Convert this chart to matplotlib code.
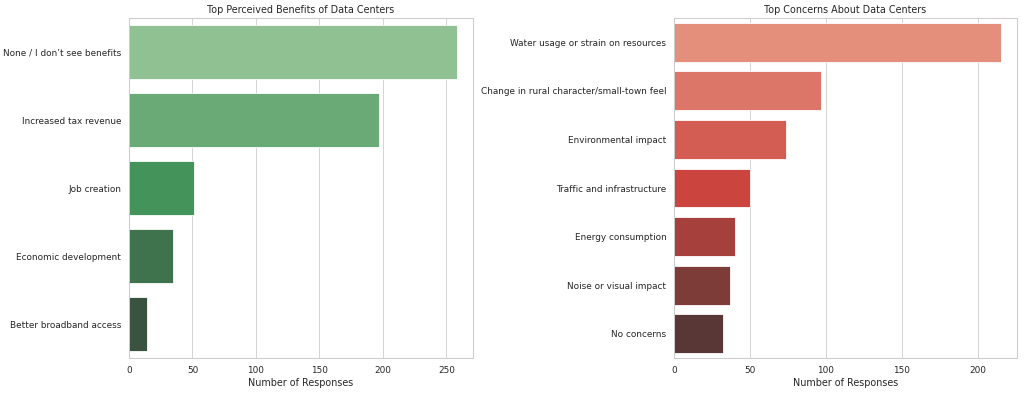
import matplotlib
matplotlib.use("Agg")
import matplotlib.pyplot as plt
import seaborn as sns
import pandas as pd

benefit_labels = ["None / I don\u2019t see benefits", "Increased tax revenue", "Job creation",
                  "Economic development", "Better broadband access"]
benefit_counts = [258, 197, 51, 35, 14]

concern_labels = ["Water usage or strain on resources", "Change in rural character/small-town feel",
                  "Environmental impact", "Traffic and infrastructure", "Energy consumption",
                  "Noise or visual impact", "No concerns"]
concern_counts = [215, 97, 74, 50, 40, 37, 32]

sns.set_theme(style="whitegrid")

DPI = 58
fig = plt.figure(figsize=(1024 / DPI, 393 / DPI), dpi=DPI)
ax1 = fig.add_axes([129 / 1024, 1 - 358 / 393, (473 - 129) / 1024, 340 / 393])
ax2 = fig.add_axes([674 / 1024, 1 - 358 / 393, (1017 - 674) / 1024, 340 / 393])

df_b = pd.DataFrame({"label": benefit_labels, "count": benefit_counts})
df_c = pd.DataFrame({"label": concern_labels, "count": concern_counts})

sns.barplot(data=df_b, x="count", y="label", hue="label", palette="Greens_d", legend=False, ax=ax1)
ax1.set_title("Top Perceived Benefits of Data Centers")
ax1.set_xlabel("Number of Responses")
ax1.set_ylabel("")

sns.barplot(data=df_c, x="count", y="label", hue="label", palette="Reds_d", legend=False, ax=ax2)
ax2.set_title("Top Concerns About Data Centers")
ax2.set_xlabel("Number of Responses")
ax2.set_ylabel("")

fig.savefig("out.png", dpi=DPI)
